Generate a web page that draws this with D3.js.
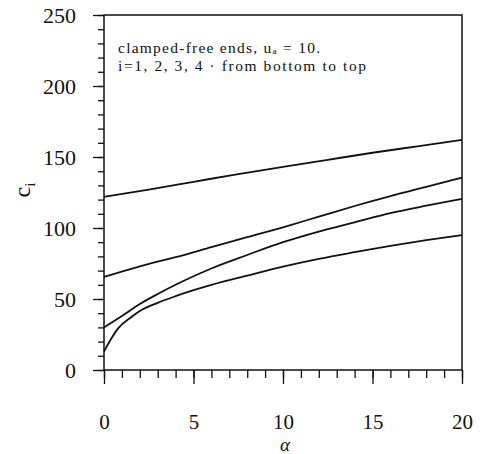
<!DOCTYPE html>
<html>

<head>
  <meta charset="utf-8">
  <title>c_i vs alpha</title>
  <script src="https://cdn.jsdelivr.net/npm/d3@7"></script>
  <style>
    body { margin: 0; background: #fff; }
    text { font-family: "Liberation Serif", "Times New Roman", serif; fill: #111; }
  </style>
</head>

<body>
  <script>
    // Data: alpha and c_i for modes 1..4
    const alpha1 = [0, 0.4, 0.8, 1.5, 2, 3, 4, 5, 6, 8, 10, 12, 14, 16, 18, 20];
    const c1 = [13, 22, 29.5, 37, 41.5, 47.3, 52, 56.2, 60, 66.5, 72.8, 78.3, 83, 87.4, 91.4, 95];

    const alpha2 = [0, 1, 2, 3, 4, 5, 6, 8, 10, 12, 14, 16, 18, 20];
    const c2 = [30, 38, 46.5, 53.5, 60, 66, 71.5, 81, 90, 97.5, 104, 110.5, 115.7, 120.5];

    const alpha3 = [0, 2, 4, 6, 8, 10, 12, 14, 16, 18, 20];
    const c3 = [65.5, 73, 79.5, 86.5, 93.5, 100.5, 108, 115.5, 122.5, 129, 135.5];

    const alpha4 = [0, 2.5, 5, 7.5, 10, 12.5, 15, 17.5, 20];
    const c4 = [122, 127, 132.5, 138, 143, 148, 153, 157.5, 162];

    const xTicks = [0, 5, 10, 15, 20];
    const yTicks = [0, 50, 100, 150, 200, 250];

    const w = 484;
    const h = 454;
    const plotL = 104, plotR = 462, plotT = 15, plotB = 370;

    const x = d3.scaleLinear().domain([0, 20]).range([plotL, plotR]);
    const y = d3.scaleLinear().domain([0, 250]).range([plotB, plotT]);

    const svg = d3.select("body")
      .append("svg")
      .attr("width", w)
      .attr("height", h);

    // frame
    svg.append("rect")
      .attr("x", plotL).attr("y", plotT)
      .attr("width", plotR - plotL).attr("height", plotB - plotT)
      .attr("fill", "none").attr("stroke", "#111").attr("stroke-width", 1.5);

    // x axis: major + minor ticks pointing down
    const xMinor = svg.append("g")
      .attr("transform", "translate(0," + plotB + ")")
      .call(d3.axisBottom(x).tickValues(d3.range(0, 21, 1)).tickSize(8).tickFormat(""));
    const xMajor = svg.append("g")
      .attr("transform", "translate(0," + plotB + ")")
      .call(d3.axisBottom(x).tickValues(xTicks).tickSize(14).tickPadding(26).tickFormat(d3.format("d")));
    xMajor.selectAll("text").attr("font-size", 21).attr("dy", "0.9em");

    // y axis: major + minor ticks pointing left
    const yMinor = svg.append("g")
      .attr("transform", "translate(" + plotL + ",0)")
      .call(d3.axisLeft(y).tickValues(d3.range(0, 251, 10)).tickSize(6).tickFormat(""));
    const yMajor = svg.append("g")
      .attr("transform", "translate(" + plotL + ",0)")
      .call(d3.axisLeft(y).tickValues(yTicks).tickSize(11).tickPadding(17).tickFormat(d3.format("d")));
    yMajor.selectAll("text").attr("font-size", 22);

    [xMinor, xMajor, yMinor, yMajor].forEach(function (g) {
      g.select(".domain").remove();
      g.selectAll("line").attr("stroke", "#111").attr("stroke-width", 1.3);
      g.selectAll("text").attr("font-family", "Liberation Serif, serif").attr("fill", "#111");
    });

    // curves
    const line = d3.line()
      .x(function (d) { return x(d[0]); })
      .y(function (d) { return y(d[1]); })
      .curve(d3.curveMonotoneX);

    const series = [
      d3.zip(alpha1, c1),
      d3.zip(alpha2, c2),
      d3.zip(alpha3, c3),
      d3.zip(alpha4, c4)
    ];

    svg.selectAll("path.curve")
      .data(series)
      .enter()
      .append("path")
      .attr("class", "curve")
      .attr("d", line)
      .attr("fill", "none")
      .attr("stroke", "#111")
      .attr("stroke-width", 1.8);

    // annotation
    svg.append("text").attr("x", 118).attr("y", 53).attr("font-size", 15.5)
      .attr("textLength", 202).attr("lengthAdjust", "spacing")
      .text("clamped-free ends, u\u2090 = 10.");

    svg.append("text").attr("x", 118).attr("y", 71).attr("font-size", 15.5)
      .attr("textLength", 248).attr("lengthAdjust", "spacing")
      .text("i=1, 2, 3, 4 · from bottom to top");

    // axis labels
    svg.append("text")
      .attr("x", 285).attr("y", 451)
      .attr("text-anchor", "middle")
      .attr("font-size", 19)
      .attr("font-style", "italic")
      .text("α");

    const yl = svg.append("text")
      .attr("transform", "translate(30,190) rotate(-90)")
      .attr("text-anchor", "middle")
      .attr("font-size", 24);
    yl.append("tspan").text("c");
    yl.append("tspan").attr("font-size", 15).attr("dy", 5).text("i");
  </script>
</body>

</html>
